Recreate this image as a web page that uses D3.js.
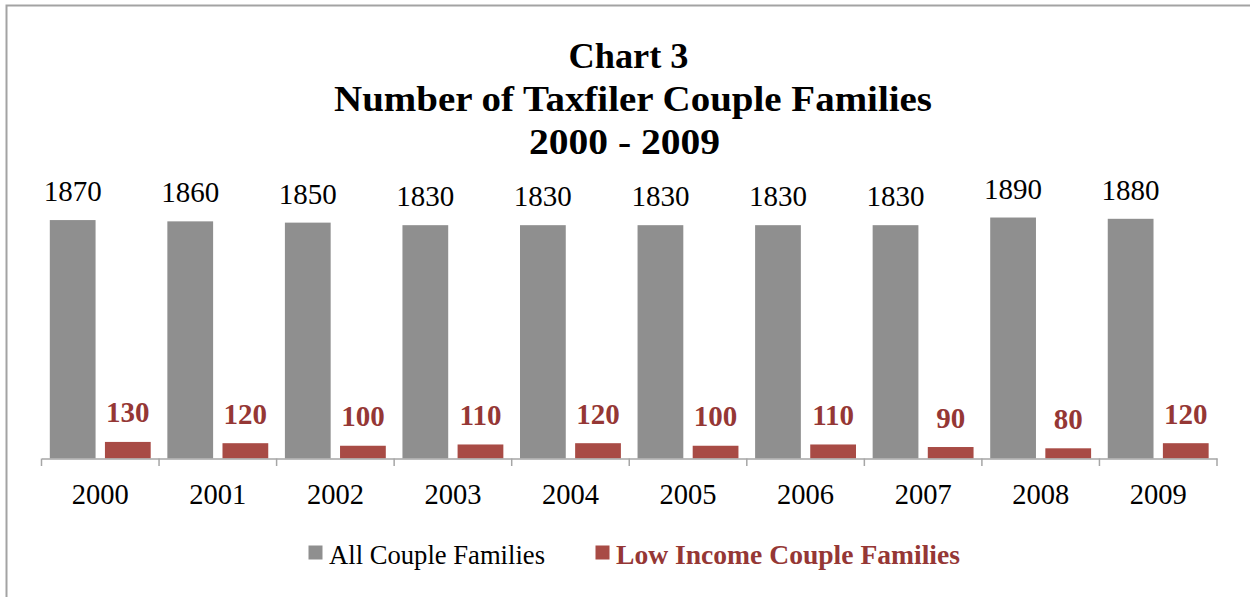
<!DOCTYPE html>
<html>
<head>
<meta charset="utf-8">
<script src="https://cdn.jsdelivr.net/npm/d3@7"></script>
<style>
  html, body { margin: 0; padding: 0; background: #fff; }
  svg { display: block; }
</style>
</head>
<body>
<svg id="chart" width="1250" height="597"></svg>
<script>
const years = ["2000","2001","2002","2003","2004","2005","2006","2007","2008","2009"];
const allCouple = [1870,1860,1850,1830,1830,1830,1830,1830,1890,1880];
const lowIncome = [130,120,100,110,120,100,110,90,80,120];
const seriesNames = ["All Couple Families","Low Income Couple Families"];
const titleLines = ["Chart 3","Number of Taxfiler Couple Families","2000 - 2009"];

const grayColor = "#8f8f8f";
const redColor = "#a84b45";
const redText = "#953735";
const font = "'Liberation Serif', 'Times New Roman', serif";

const svg = d3.select("#chart");

// outer border (right/bottom extend past canvas)
svg.append("rect")
  .attr("x", 6.5).attr("y", 5.5)
  .attr("width", 1260).attr("height", 620)
  .attr("fill", "none").attr("stroke", "#a3a3a3").attr("stroke-width", 2);

// title
const titleBase = [67.5, 110.5, 154];
const titleWidths = [120, 598, 191];
const titleCenters = [628.5, 633, 624.5];
svg.selectAll("text.title").data(titleLines).join("text")
  .attr("class", "title")
  .attr("x", (d, i) => titleCenters[i] - titleWidths[i] / 2)
  .attr("y", (d, i) => titleBase[i])
  .attr("textLength", (d, i) => titleWidths[i])
  .attr("lengthAdjust", "spacingAndGlyphs")
  .attr("font-family", font).attr("font-weight", "bold")
  .attr("font-size", 36).attr("fill", "#000")
  .text(d => d);

const baseY = 458.5;
const x = d3.scaleBand().domain(years).range([41.5, 1217]).padding(0);
const xs = d3.scaleBand().domain(seriesNames).range([8.3, 109.2]).paddingInner(0.17);
const y = d3.scaleLinear().domain([0, 2000]).range([baseY, baseY - 255]);

const data = years.map((yr, i) => ({ year: yr, values: [allCouple[i], lowIncome[i]] }));

const g = svg.append("g");
const groups = g.selectAll("g.cat").data(data).join("g")
  .attr("class", "cat")
  .attr("transform", d => `translate(${x(d.year)},0)`);

groups.selectAll("rect").data(d => d.values.map((v, j) => ({ name: seriesNames[j], v, j })))
  .join("rect")
  .attr("x", d => xs(d.name))
  .attr("width", xs.bandwidth())
  .attr("y", d => y(d.v))
  .attr("height", d => baseY - y(d.v))
  .attr("fill", d => d.j === 0 ? grayColor : redColor);

groups.selectAll("text.lbl").data(d => d.values.map((v, j) => ({ name: seriesNames[j], v, j })))
  .join("text")
  .attr("class", "lbl")
  .attr("x", d => xs(d.name) + xs.bandwidth() / 2)
  .attr("y", d => y(d.v) - (d.j === 0 ? 19 : 19.5))
  .attr("text-anchor", "middle")
  .attr("font-family", font)
  .attr("font-weight", d => d.j === 0 ? "normal" : "bold")
  .attr("font-size", d => d.j === 0 ? 29 : 29)
  .attr("fill", d => d.j === 0 ? "#000" : redText)
  .text(d => d.v);

// x axis
const axis = svg.append("g")
  .attr("transform", `translate(0,${baseY})`)
  .call(d3.axisBottom(x).tickSize(0).tickPadding(25));
axis.select(".domain").attr("stroke", "#a6a6a6").attr("stroke-width", 1.5);
axis.selectAll(".tick text")
  .attr("font-family", font).attr("font-size", 28.5).attr("fill", "#000");

// boundary ticks
const bounds = years.map(d => x(d)).concat([x(years[years.length - 1]) + x.step()]);
axis.selectAll("line.bt").data(bounds).join("line")
  .attr("class", "bt")
  .attr("x1", d => d).attr("x2", d => d)
  .attr("y1", 0).attr("y2", 7.5)
  .attr("stroke", "#a6a6a6").attr("stroke-width", 1.5);

// legend
const legX = [308.5, 595.5];
const legTextX = [329, 616];
const legW = [216, 344];
const leg = svg.selectAll("g.leg").data(seriesNames).join("g").attr("class", "leg");
leg.append("rect")
  .attr("x", (d, i) => legX[i]).attr("y", 545.5)
  .attr("width", 14).attr("height", 14)
  .attr("fill", (d, i) => i === 0 ? grayColor : redColor);
leg.append("text")
  .attr("x", (d, i) => legTextX[i]).attr("y", 564)
  .attr("textLength", (d, i) => legW[i])
  .attr("lengthAdjust", "spacingAndGlyphs")
  .attr("font-family", font)
  .attr("font-weight", (d, i) => i === 0 ? "normal" : "bold")
  .attr("font-size", 26.5)
  .attr("fill", (d, i) => i === 0 ? "#000" : redText)
  .text(d => d);
</script>
</body>
</html>
